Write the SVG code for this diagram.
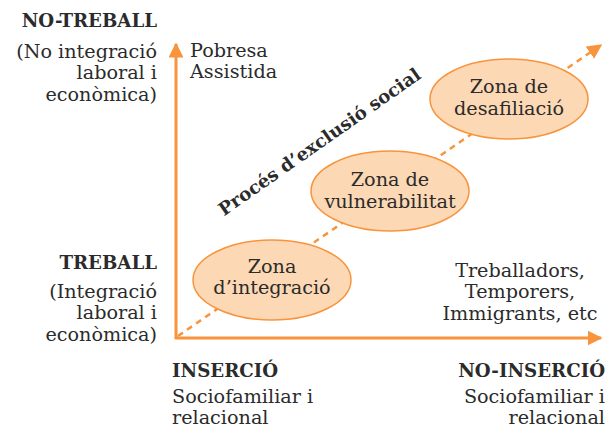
<svg xmlns="http://www.w3.org/2000/svg" width="614" height="430" viewBox="0 0 614 430">
<style>
  text { font-family: "DejaVu Serif", "Liberation Serif", serif; fill: #2b2b2b; font-size: 19.2px; }
  .b { font-weight: bold; font-size: 18.2px; }
  .r { text-anchor: end; }
  .m { text-anchor: middle; }
  .axis { stroke: #f7943c; stroke-width: 3; fill: none; }
  .dash { stroke: #f7943c; stroke-width: 2.5; fill: none; stroke-dasharray: 6 5; }
  .zone { fill: #fcd8b4; stroke: #f7943c; stroke-width: 1.5; }
</style>
<defs>
  <marker id="ah" viewBox="0 0 10 10" refX="9" refY="5" markerWidth="5" markerHeight="5" markerUnits="strokeWidth" orient="auto">
    <path d="M0,0 L10,5 L0,10 z" fill="#f7943c"/>
  </marker>
  <marker id="ahd" viewBox="0 0 10 10" refX="9" refY="5" markerWidth="6" markerHeight="6" markerUnits="strokeWidth" orient="auto">
    <path d="M0,0 L10,5 L0,10 z" fill="#f7943c"/>
  </marker>
</defs>
<g id="connectors">
  <line class="dash" x1="178" y1="336" x2="601" y2="45" marker-end="url(#ahd)"/>
  <line class="axis" x1="176" y1="339" x2="176" y2="44" marker-end="url(#ah)"/>
  <line class="axis" x1="175" y1="338" x2="601" y2="338" marker-end="url(#ah)"/>
</g>
<g id="zona-integracio">
  <ellipse class="zone" cx="272" cy="280" rx="79" ry="40"/>
  <text class="m" x="272" y="273">Zona</text>
  <text class="m" x="272" y="294">d’integració</text>
</g>
<g id="zona-vulnerabilitat">
  <ellipse class="zone" cx="390" cy="191" rx="79" ry="40"/>
  <text class="m" x="390" y="186">Zona de</text>
  <text class="m" x="390" y="208">vulnerabilitat</text>
</g>
<g id="zona-desafiliacio">
  <ellipse class="zone" cx="509" cy="99" rx="79" ry="40"/>
  <text class="m" x="509" y="93">Zona de</text>
  <text class="m" x="509" y="115">desafiliació</text>
</g>
<g id="proces">
  <text class="b m" transform="translate(323,147) rotate(-35)">Procés d’exclusió social</text>
</g>
<g id="no-treball">
  <text class="b r" x="157" y="27">NO-TREBALL</text>
  <text class="r" x="157" y="58">(No integració</text>
  <text class="r" x="157" y="79">laboral i</text>
  <text class="r" x="157" y="101">econòmica)</text>
</g>
<g id="pobresa">
  <text x="190" y="57">Pobresa</text>
  <text x="190" y="78">Assistida</text>
</g>
<g id="treball">
  <text class="b r" x="157" y="269">TREBALL</text>
  <text class="r" x="157" y="298">(Integració</text>
  <text class="r" x="157" y="319">laboral i</text>
  <text class="r" x="157" y="341">econòmica)</text>
</g>
<g id="treballadors">
  <text class="m" x="520" y="277">Treballadors,</text>
  <text class="m" x="520" y="298">Temporers,</text>
  <text class="m" x="520" y="320">Immigrants, etc</text>
</g>
<g id="insercio">
  <text class="b" x="172" y="377">INSERCIÓ</text>
  <text x="172" y="403">Sociofamiliar i</text>
  <text x="172" y="424">relacional</text>
</g>
<g id="no-insercio">
  <text class="b r" x="605" y="377">NO-INSERCIÓ</text>
  <text class="r" x="605" y="403">Sociofamiliar i</text>
  <text class="r" x="605" y="424">relacional</text>
</g>
</svg>
